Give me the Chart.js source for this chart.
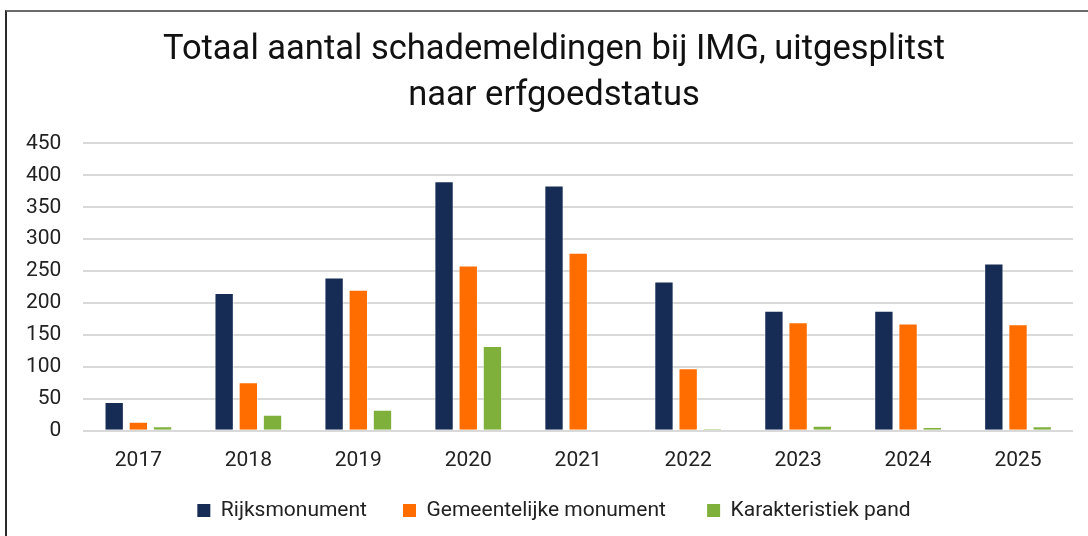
<!DOCTYPE html>
<html>
<head>
<meta charset="utf-8">
<script src="https://cdn.jsdelivr.net/npm/chart.js@4"></script>
<style>
  html, body { margin: 0; padding: 0; background: #fff; }
  #wrap { position: relative; width: 1088px; height: 536px; overflow: hidden; }
  #frame {
    position: absolute; left: 5px; top: 10px; right: -10px; bottom: -10px;
    border-top: 2px solid #6b6b6b; border-left: 2px solid #2b2b2b;
  }
  canvas { position: absolute; left: 0; top: 0; }
</style>
</head>
<body>
<div id="wrap">
  <div id="frame"></div>
  <canvas id="chart" width="1088" height="536"></canvas>
</div>
<script>
// chart data
const years = ['2017', '2018', '2019', '2020', '2021', '2022', '2023', '2024', '2025'];
const rijksmonument = [45, 216, 240, 391, 384, 234, 188, 188, 262];
const gemeentelijkMonument = [14, 76, 221, 259, 279, 98, 170, 168, 167];
const karakteristiekPand = [7, 25, 33, 133, 0, 3, 8, 6, 7];
const titleLines = ['Totaal aantal schademeldingen bij IMG, uitgesplitst', 'naar erfgoedstatus'];

const font = 'Roboto, "Noto Sans", sans-serif';

// extra spacing after legend text, the original legend is spread wider
const legendGap = [5, 6, 0];

function makeSet(label, data, color) {
  return {
    label: label,
    data: data,
    backgroundColor: color,
    borderColor: 'rgba(255,255,255,0.5)',
    borderWidth: 1,
    categoryPercentage: 0.66,
    barPercentage: 0.8
  };
}

const ctx = document.getElementById('chart').getContext('2d');
new Chart(ctx, {
  type: 'bar',
  data: {
    labels: years,
    datasets: [
      makeSet('Rijksmonument', rijksmonument, '#172c54'),
      makeSet('Gemeentelijke monument', gemeentelijkMonument, '#ff6d01'),
      makeSet('Karakteristiek pand', karakteristiekPand, '#7fb03c')
    ]
  },
  options: {
    responsive: false,
    animation: false,
    // negative right padding + empty right axis: title/legend sit a bit right of the plot centre
    layout: { padding: { left: 4, right: -16, top: 4, bottom: 5 } },
    plugins: {
      title: {
        display: true,
        text: titleLines,
        color: '#111',
        font: { family: font, size: 34.5, weight: 'normal', lineHeight: 1.34 },
        padding: { top: 23, bottom: 24 }
      },
      legend: {
        position: 'bottom',
        labels: {
          color: '#222',
          font: { family: font, size: 21 },
          boxWidth: 13,
          boxHeight: 13,
          padding: 10,
          generateLabels: chart => {
            const items = Chart.defaults.plugins.legend.labels.generateLabels(chart);
            items.forEach((item, i) => {
              item.text = item.text + ' '.repeat(legendGap[i]);
              item.lineWidth = 0;
            });
            return items;
          }
        }
      },
      tooltip: { enabled: false }
    },
    scales: {
      x: {
        grid: { display: false, drawTicks: false, tickLength: 0 },
        border: { display: false },
        ticks: { color: '#222', font: { family: font, size: 21 }, padding: 17 }
      },
      y: {
        min: 0,
        max: 450,
        ticks: { stepSize: 50, color: '#222', font: { family: font, size: 21 }, padding: 22 },
        grid: { color: '#d9d9d9', lineWidth: 2, drawTicks: false },
        border: { display: false }
      },
      spacer: {
        position: 'right',
        min: 0,
        max: 450,
        afterFit: scale => { scale.width = 31; },
        ticks: { display: false },
        grid: { display: false, drawTicks: false },
        border: { display: false }
      }
    }
  }
});
</script>
</body>
</html>
